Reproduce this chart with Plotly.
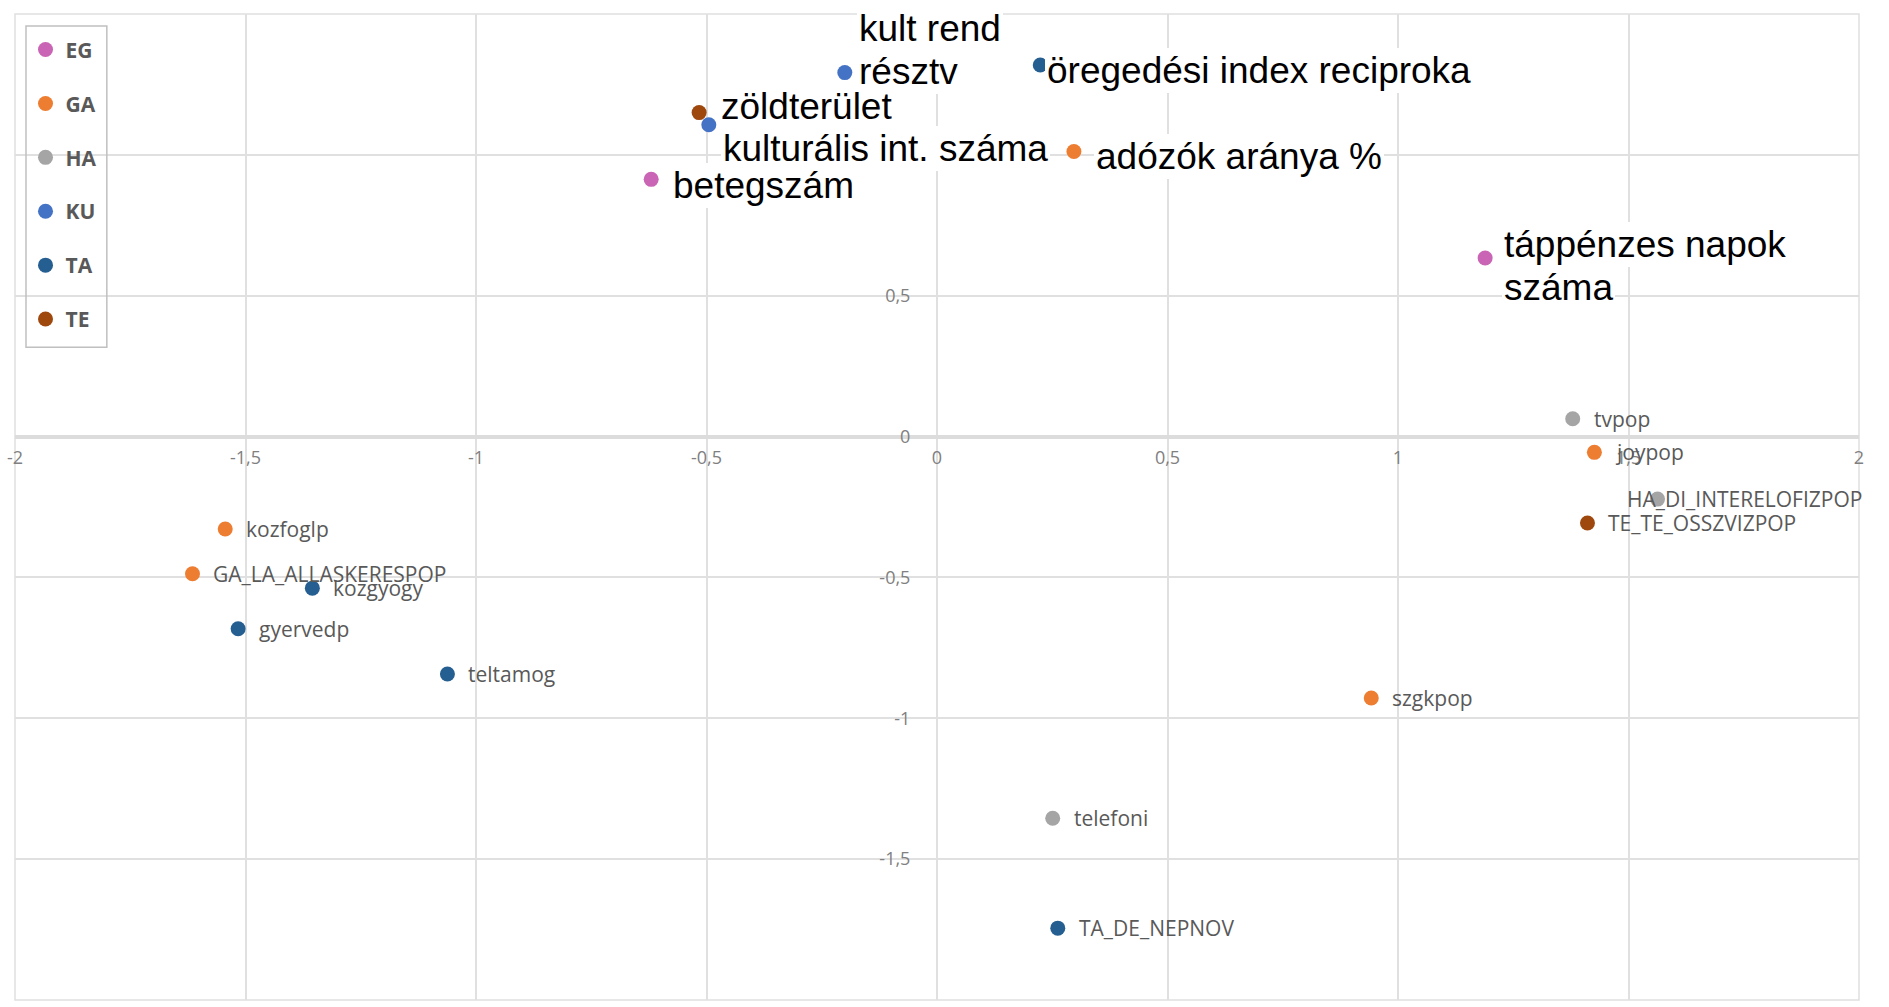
import plotly.graph_objects as go

# ---------------- data ----------------
groups = ["EG", "GA", "HA", "KU", "TA", "TE"]

EG_labels = ["betegszám", "táppénzes napok<br>száma"]
EG_x = [-0.620, 1.189]
EG_y = [0.913, 0.634]

GA_labels = ["adózók aránya %", "kozfoglp", "GA_LA_ALLASKERESPOP", "joypop", "szgkpop"]
GA_x = [0.297, -1.544, -1.615, 1.426, 0.942]
GA_y = [1.012, -0.328, -0.487, -0.056, -0.928]

HA_labels = ["tvpop", "HA_DI_INTERELOFIZPOP", "telefoni"]
HA_x = [1.379, 1.563, 0.251]
HA_y = [0.063, -0.222, -1.355]

KU_labels = ["kult rend<br>résztv", "kulturális int. száma"]
KU_x = [-0.200, -0.495]
KU_y = [1.292, 1.107]

TA_labels = ["öregedési index reciproka", "kozgyogy", "gyervedp", "teltamog", "TA_DE_NEPNOV"]
TA_x = [0.224, -1.355, -1.516, -1.062, 0.262]
TA_y = [1.319, -0.538, -0.682, -0.843, -1.745]

TE_labels = ["zöldterület", "TE_TE_OSSZVIZPOP"]
TE_x = [-0.516, 1.411]
TE_y = [1.150, -0.307]

x_tickvals = [-2, -1.5, -1, -0.5, 0, 0.5, 1, 1.5, 2]
x_ticktext = ["-2", "-1,5", "-1", "-0,5", "0", "0,5", "1", "1,5", "2"]
y_tickvals = [-2, -1.5, -1, -0.5, 0, 0.5, 1, 1.5]
# the labels at 1 and 1,5 are hidden behind the text boxes in the original
y_ticktext = ["-2", "-1,5", "-1", "-0,5", "0", "0,5", "", ""]

# ---------------- styles ----------------
COLORS = {
    "EG": "#C965B4",
    "GA": "#ED7D31",
    "HA": "#A5A5A5",
    "KU": "#4472C4",
    "TA": "#255E91",
    "TE": "#9E480E",
}
BIG_LABELS = {
    "betegszám", "táppénzes napok<br>száma", "adózók aránya %",
    "kult rend<br>résztv", "kulturális int. száma",
    "öregedési index reciproka", "zöldterület",
}
# pixel offsets of the label (text start, text centre) from its point
LABEL_SHIFT = {
    "kult rend<br>résztv": (12, 23),
    "öregedési index reciproka": (5, -6),
    "zöldterület": (20, 6),
    "kulturális int. száma": (12, -24),
    "adózók aránya %": (20, -5),
    "betegszám": (20, -6),
    "táppénzes napok<br>száma": (17, -8),
    "HA_DI_INTERELOFIZPOP": (-33, 0),
}
DEFAULT_SHIFT = (19, 0)
BIG_LINE_STEP = 43  # px between lines of the large labels

series = {
    "EG": (EG_labels, EG_x, EG_y),
    "GA": (GA_labels, GA_x, GA_y),
    "HA": (HA_labels, HA_x, HA_y),
    "KU": (KU_labels, KU_x, KU_y),
    "TA": (TA_labels, TA_x, TA_y),
    "TE": (TE_labels, TE_x, TE_y),
}

fig = go.Figure()
small_ann, big_ann = [], []
for g in groups:
    labels, xs, ys = series[g]
    fig.add_trace(go.Scatter(
        x=xs, y=ys, mode="markers", name=g, legendgroup=g,
        marker=dict(size=15, color=COLORS[g]),
        text=[l.replace("<br>", " ") for l in labels], hoverinfo="text+x+y",
    ))
    for lab, xv, yv in zip(labels, xs, ys):
        dx, dy = LABEL_SHIFT.get(lab, DEFAULT_SHIFT)
        if lab in BIG_LABELS:
            lines = lab.split("<br>")
            n = len(lines)
            for i, line in enumerate(lines):
                big_ann.append(dict(
                    x=xv, y=yv, xref="x", yref="y", text=line, showarrow=False,
                    xanchor="left", yanchor="middle", xshift=dx,
                    yshift=dy + ((n - 1) / 2 - i) * BIG_LINE_STEP,
                    align="left", bgcolor="white", borderpad=2, borderwidth=0,
                    font=dict(family="Liberation Sans, Arial", size=37, color="#000000"),
                ))
        else:
            small_ann.append(dict(
                x=xv, y=yv, xref="x", yref="y", text=lab, showarrow=False,
                xanchor="left", yanchor="middle", xshift=dx, yshift=dy,
                font=dict(family="Open Sans", size=21, color="#595959"),
            ))

GRID = "#e0e0e0"
TICKFONT = dict(family="Open Sans", size=18, color="#808080")

fig.update_layout(
    width=1889, height=1007,
    margin=dict(l=13, r=30, t=14, b=7),
    paper_bgcolor="white", plot_bgcolor="white",
    separators=", ",
    annotations=small_ann + big_ann,
    showlegend=True,
    legend=dict(
        x=0.0057, y=0.9844, xanchor="left", yanchor="top",
        bgcolor="rgba(0,0,0,0)", borderwidth=0,
        font=dict(family="Open Sans", size=21, color="#595959", weight="bold"),
        tracegroupgap=23.6, itemsizing="trace",
    ),
    xaxis=dict(
        range=[-2, 2], anchor="free", position=2 / 3.5,
        tickvals=x_tickvals, ticktext=x_ticktext, tickfont=TICKFONT,
        ticks="outside", ticklen=5, tickcolor="rgba(0,0,0,0)",
        showgrid=True, gridcolor=GRID, gridwidth=1.5,
        zeroline=False, showline=False,
    ),
    yaxis=dict(
        range=[-2, 1.5], anchor="free", position=0.5,
        tickvals=y_tickvals, ticktext=y_ticktext, tickfont=TICKFONT,
        ticks="outside", ticklen=23, tickcolor="rgba(0,0,0,0)",
        showgrid=True, gridcolor=GRID, gridwidth=2,
        zeroline=True, zerolinecolor="#dcdcdc", zerolinewidth=3.5,
        showline=False,
    ),
    shapes=[
        dict(type="rect", xref="paper", yref="paper", x0=0, x1=1, y0=0, y1=1,
             line=dict(color=GRID, width=1.5), layer="below"),
        # legend frame
        dict(type="rect", xref="paper", yref="paper",
             x0=0.00596, x1=0.0498, y0=0.662, y1=0.9879,
             line=dict(color="#c0c0c0", width=1.5), layer="above"),
    ],
)

fig.write_html("out.html", config={"displayModeBar": False},
               post_script="document.body.style.margin='0';")
